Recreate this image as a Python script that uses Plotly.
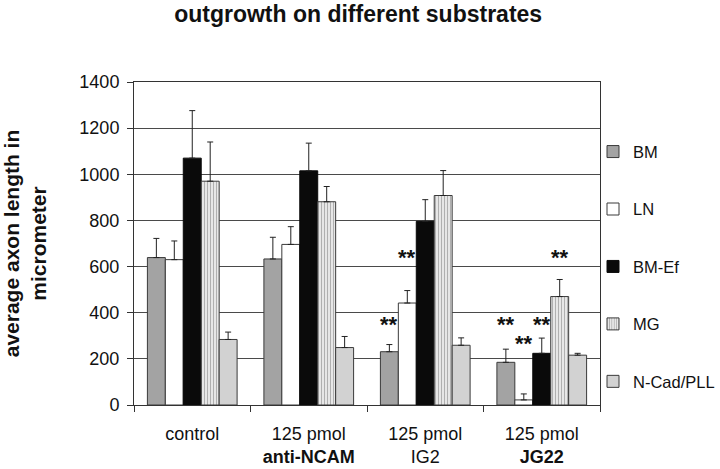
import plotly.graph_objects as go

categories = ["control", "125 pmol<br><b>anti-NCAM</b>", "125 pmol<br>IG2", "125 pmol<br><b>JG22</b>"]
series_names = ["BM", "LN", "BM-Ef", "MG", "N-Cad/PLL"]

bm = [639, 633, 231, 185]
ln = [630, 696, 442, 22]
bm_ef = [1070, 1015, 796, 224]
mg = [970, 881, 908, 470]
ncad = [284, 249, 259, 216]

bm_err = [83, 94, 31, 57]
ln_err = [81, 77, 54, 26]
bm_ef_err = [206, 120, 94, 66]
mg_err = [170, 66, 108, 74]
ncad_err = [32, 48, 32, 8]

# significance markers: (series index, category index, label height)
sig_series = [0, 1, 0, 1, 2, 3]
sig_category = [2, 2, 3, 3, 3, 3]
sig_level = [350, 640, 350, 268, 350, 640]

values = [bm, ln, bm_ef, mg, ncad]
errors = [bm_err, ln_err, bm_ef_err, mg_err, ncad_err]
styles = [
    dict(color="#a3a3a3", line=dict(color="#3a3a3a", width=1)),
    dict(color="#ffffff", line=dict(color="#3a3a3a", width=1)),
    dict(color="#0a0a0a", line=dict(color="#0a0a0a", width=1)),
    dict(color="#ffffff", line=dict(color="#3a3a3a", width=1),
         pattern=dict(shape="|", fgcolor="#6e6e6e", bgcolor="#f2f2f2", size=3, solidity=0.45)),
    dict(color="#d2d2d2", line=dict(color="#3a3a3a", width=1)),
]

FONT = "Arial, Liberation Sans, sans-serif"
fig = go.Figure()
for i, name in enumerate(series_names):
    fig.add_trace(go.Bar(
        name=name, x=categories, y=values[i], marker=styles[i],
        legendgroup=name,
        error_y=dict(type="data", array=errors[i], arrayminus=[0] * len(categories),
                     symmetric=False, color="#222222", thickness=1, width=3),
    ))

bargap = 0.23
bw = (1 - bargap) / len(series_names)
for s, c, lvl in zip(sig_series, sig_category, sig_level):
    fig.add_annotation(x=c + (s - 2) * bw, y=lvl, text="<b>**</b>", showarrow=False,
                       font=dict(size=22, family=FONT, color="#111111"), yanchor="middle")

W, H = 720, 469
fig.update_layout(
    width=W, height=H,
    paper_bgcolor="white", plot_bgcolor="white",
    barmode="group", bargap=bargap, bargroupgap=0,
    margin=dict(l=134, r=120, t=82, b=64, autoexpand=False),
    font=dict(family=FONT, size=18, color="#111111"),
    title=dict(text="<b>outgrowth on different substrates</b>", x=0.481, xanchor="center",
               xref="paper",
               y=1 - 14 / H, yanchor="middle", font=dict(size=23, family=FONT, color="#111111")),
    showlegend=True,
    legend=dict(x=0.985, xanchor="left", y=0.838, yanchor="top", tracegroupgap=33,
                itemwidth=30,
                font=dict(size=16.5, family=FONT), bgcolor="rgba(0,0,0,0)"),
    xaxis=dict(showgrid=False, ticks="outside", tickson="boundaries", ticklen=6,
               tickcolor="#333333", showline=True, linecolor="#333333", mirror=True,
               automargin=False, ticklabelstandoff=12, tickfont=dict(size=18, family=FONT)),
    yaxis=dict(range=[0, 1400], dtick=200, showgrid=True, gridcolor="#4a4a4a", gridwidth=1,
               ticks="outside", ticklen=6, tickcolor="#333333", showline=True,
               linecolor="#333333", mirror=True, zeroline=False, automargin=False,
               ticklabelstandoff=4,
               tickfont=dict(size=18, family=FONT),
               title=dict(text="<b>average axon length in<br>micrometer</b>", standoff=30,
                          font=dict(size=21, family=FONT))),
)

fig.write_html("out.html",
               config={"displayModeBar": False},
               post_script="document.body.style.margin='0';")
